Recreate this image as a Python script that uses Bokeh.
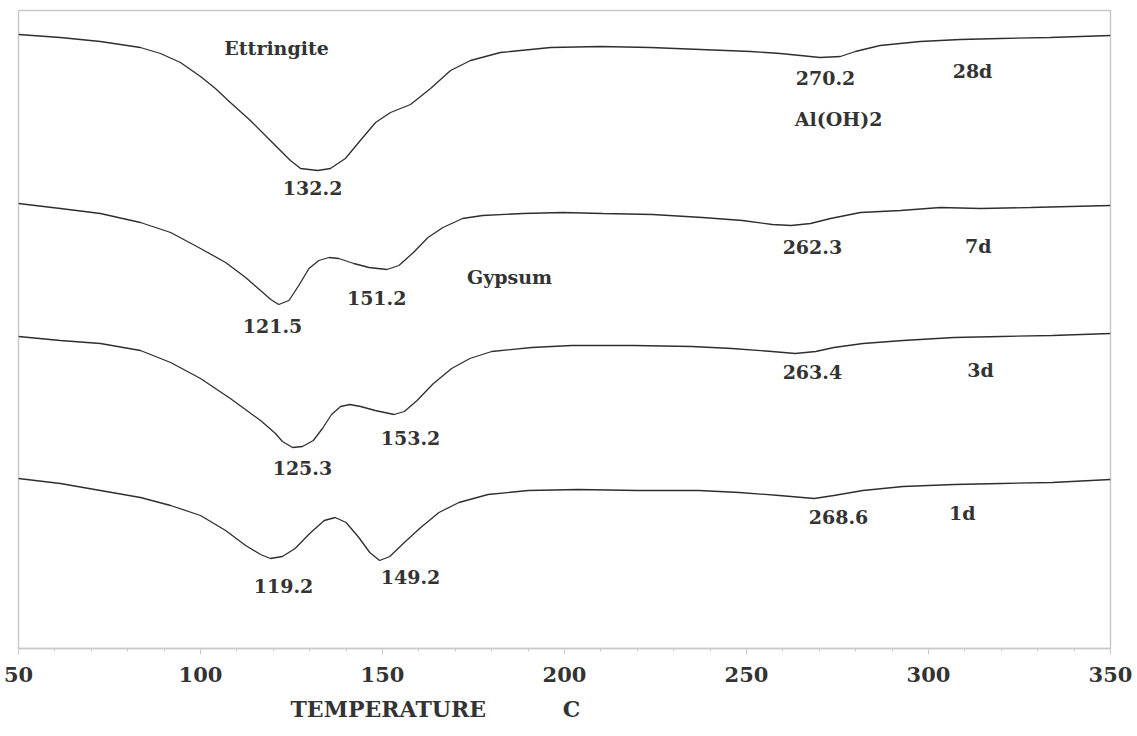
from bokeh.plotting import figure
from bokeh.models import Range1d, Label, SingleIntervalTicker, Title
from bokeh.embed import file_html
from bokeh.resources import INLINE

# DTA curves of the hydrating paste, stacked by curing age (signal in arbitrary units)
temp_28d = [50, 61.5, 72.5, 83.5, 89.0, 94.5, 100.0, 104.1, 108.2, 113.7, 119.2, 124.7, 127.5, 132.2,
            135.7, 139.8, 143.9, 148.1, 152.2, 157.7, 163.2, 168.7, 174.2, 182.4, 196.2, 209.9, 223.6,
            237.4, 251.1, 259.3, 264.8, 270.2, 275.8, 279.9, 286.7, 297.7, 308.7, 319.7, 333.4, 350]
dta_28d = [61.6, 61.3, 60.9, 60.3, 59.7, 58.8, 57.4, 56.2, 54.8, 53.0, 51.0, 49.0, 48.2, 48.0,
           48.2, 49.2, 51.0, 52.8, 53.8, 54.6, 56.2, 58.0, 59.0, 59.8, 60.3, 60.4, 60.3,
           60.1, 59.9, 59.7, 59.5, 59.3, 59.4, 59.9, 60.5, 60.9, 61.1, 61.2, 61.3, 61.5]

temp_7d = [50, 61.5, 72.5, 83.5, 91.8, 100, 106.9, 112.4, 116.5, 119.3, 121.5, 124.3, 127, 129.8,
           132.5, 135.3, 138.0, 142.1, 146.3, 151.2, 154.5, 158.5, 162.5, 166.6, 172, 177.5, 188.5,
           199.5, 210.5, 224.2, 237.9, 248.9, 257.1, 262.3, 267.6, 273.1, 281.3, 292.3, 303.3,
           314.3, 328, 339, 350]
dta_7d = [44.7, 44.2, 43.7, 42.8, 41.8, 40.2, 38.8, 37.3, 36.0, 35.1, 34.6, 35.0, 36.5, 38.2,
          39.0, 39.3, 39.2, 38.7, 38.3, 38.1, 38.5, 39.8, 41.3, 42.3, 43.2, 43.5, 43.7,
          43.8, 43.7, 43.6, 43.3, 43.0, 42.6, 42.5, 42.7, 43.2, 43.8, 44.0, 44.3,
          44.2, 44.3, 44.4, 44.5]

temp_3d = [50, 61.5, 72.5, 83.5, 91.8, 100, 108.2, 116.5, 120.6, 122.5, 125.3, 128, 131, 133.5,
           136, 138.5, 141, 144, 148, 153.2, 156, 159.5, 164, 169, 174, 180, 191, 202, 219, 235,
           246, 257, 263.4, 269, 274, 282, 293, 307, 320, 334, 350]
dta_3d = [31.4, 31.0, 30.7, 30.0, 28.8, 27.2, 25.2, 23.0, 21.7, 20.9, 20.3, 20.4, 21.0, 22.2,
          23.6, 24.4, 24.6, 24.4, 24.0, 23.6, 23.9, 25.0, 26.7, 28.2, 29.2, 29.9, 30.3, 30.5, 30.5, 30.4,
          30.2, 29.9, 29.7, 29.9, 30.3, 30.7, 31.0, 31.3, 31.4, 31.5, 31.7]

temp_1d = [50, 61.5, 72.5, 83.5, 91.8, 100, 106.9, 112.4, 116.5, 119.2, 122.5, 126, 130, 134,
           137, 140, 143.5, 146.5, 149.2, 152, 156, 160.5, 165.5, 171, 179, 190, 204, 220, 237,
           248, 259, 268.6, 274, 282, 293, 307, 320, 334, 350]
dta_1d = [17.2, 16.7, 16.0, 15.3, 14.5, 13.5, 12.0, 10.5, 9.6, 9.2, 9.4, 10.2, 11.7, 13.0,
          13.3, 12.8, 11.3, 9.8, 9.0, 9.4, 10.8, 12.3, 13.8, 14.8, 15.6, 16.0, 16.1, 16.0, 16.0,
          15.8, 15.5, 15.2, 15.5, 16.0, 16.4, 16.6, 16.7, 16.8, 17.1]

# peak temperatures, phase names and curing ages written on the chart
annotations = ["Ettringite", "132.2", "270.2", "28d", "Al(OH)2",
               "262.3", "7d", "Gypsum", "151.2", "121.5",
               "263.4", "3d", "153.2", "125.3",
               "268.6", "1d", "119.2", "149.2"]
annot_x = [120.9, 130.8, 271.7, 312.1, 275.3,
           268.1, 313.7, 184.9, 148.4, 119.8,
           268.1, 314.3, 157.7, 128.0,
           275.3, 309.3, 122.8, 157.7]
annot_y = [60.3, 46.3, 57.3, 58.0, 53.2,
           40.4, 40.5, 37.4, 35.3, 32.5,
           27.9, 28.1, 21.3, 18.3,
           13.4, 13.8, 6.5, 7.4]

x_ticks_step = 50
x_title = "TEMPERATURE" + "\u00a0" * 10 + "C"

INK = "#2e2e2e"
TEXT = "#333333"
FRAME = "#c9c9c9"

p = figure(width=1137, height=736, output_backend="svg", toolbar_location=None,
           x_range=Range1d(50, 350), y_range=Range1d(0.2, 64.0),
           min_border_left=18, min_border_right=27, min_border_top=10, min_border_bottom=88)

p.background_fill_color = "white"
p.border_fill_color = "white"
p.outline_line_color = FRAME
p.outline_line_width = 1.5
p.grid.visible = False
p.yaxis.visible = False

ax = p.xaxis[0]
ax.ticker = SingleIntervalTicker(interval=x_ticks_step, num_minor_ticks=5)
ax.axis_line_color = FRAME
ax.axis_line_width = 1.5
ax.major_tick_line_color = FRAME
ax.minor_tick_line_color = FRAME
ax.major_tick_in = 0
ax.major_tick_out = 6
ax.minor_tick_in = 0
ax.minor_tick_out = 3
ax.major_label_standoff = 12
ax.major_label_text_font = "DejaVu Serif"
ax.major_label_text_font_style = "bold"
ax.major_label_text_font_size = "21px"
ax.major_label_text_color = TEXT

for t, d in [(temp_28d, dta_28d), (temp_7d, dta_7d), (temp_3d, dta_3d), (temp_1d, dta_1d)]:
    p.line(t, d, line_color=INK, line_width=1.3)

for txt, x, y in zip(annotations, annot_x, annot_y):
    p.add_layout(Label(x=x, y=y, text=txt, text_align="center", text_baseline="middle",
                       text_font="DejaVu Serif", text_font_style="bold",
                       text_font_size="19px", text_color=TEXT))

# x-axis title, set off to the left under the curves
p.add_layout(Title(text=x_title, align="left", offset=272, standoff=19,
                   text_font="DejaVu Serif", text_font_style="bold",
                   text_font_size="22px", text_color=TEXT), "below")

open("out.html", "w").write(file_html(p, INLINE))
